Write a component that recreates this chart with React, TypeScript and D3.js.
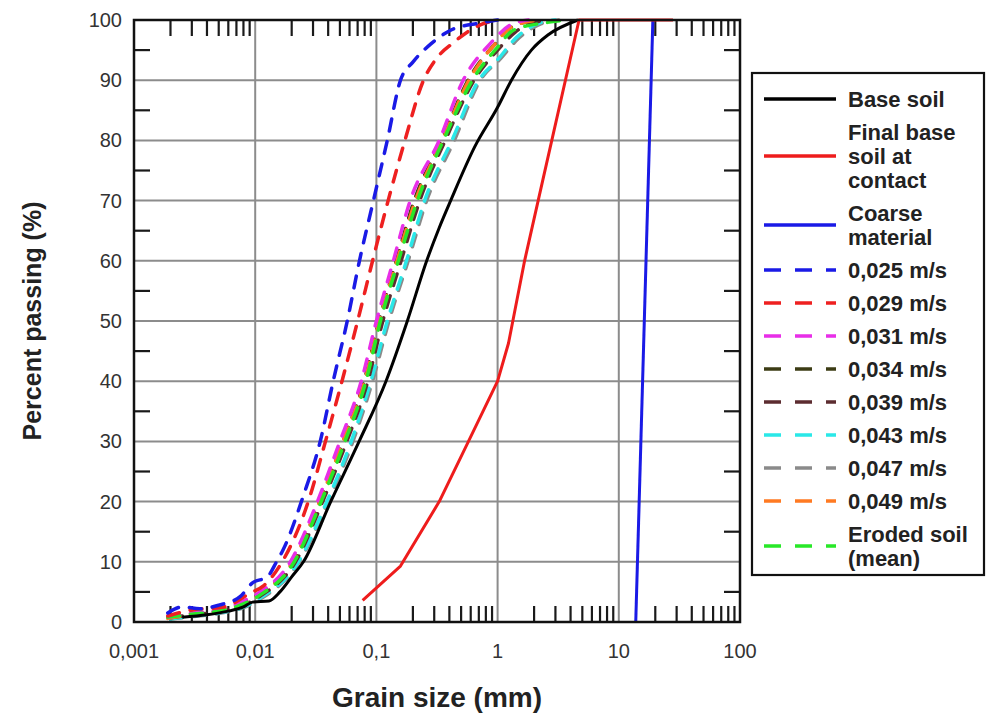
import React from "react";
import * as d3 from "d3";

// grain size (mm), percent passing (%)
const baseSoil = [
  [0.0025, 0.8], [0.004, 1.2], [0.006, 1.8], [0.008, 2.5], [0.0095, 3.3], [0.013, 3.5],
  [0.016, 5], [0.02, 7.5], [0.025, 10], [0.042, 20], [0.072, 30], [0.12, 40], [0.18, 50],
  [0.26, 60], [0.33, 65.5], [0.41, 70], [0.65, 79], [1.0, 85.5], [1.3, 90], [1.9, 95],
  [2.6, 97.5], [4.6, 100],
];
const finalBaseSoil = [
  [0.077, 3.6], [0.158, 9.3], [0.33, 20], [0.575, 30], [1.0, 40], [1.23, 46.3], [1.67, 60],
  [2.36, 73.4], [4.7, 100], [28, 100],
];
const coarseMaterial = [[13.8, 0], [19.1, 100]];
const v025 = [
  [0.0019, 1.5], [0.0025, 2.5], [0.0035, 2.2], [0.005, 2.8], [0.0075, 4.2], [0.0095, 6.5],
  [0.0126, 7.5], [0.015, 10], [0.017, 12], [0.025, 21], [0.0344, 30], [0.044, 40],
  [0.0575, 50], [0.0725, 60], [0.0945, 70], [0.123, 80], [0.158, 90], [0.2, 93], [0.28, 96],
  [0.41, 98.3], [0.72, 99.5], [1.0, 100],
];
const v029 = [
  [0.0019, 1], [0.003, 2], [0.0055, 2.5], [0.0091, 4.8], [0.0117, 6], [0.0167, 10],
  [0.0274, 20], [0.038, 30], [0.052, 40], [0.07, 50], [0.093, 60], [0.125, 70], [0.172, 80],
  [0.245, 90], [0.31, 93.5], [0.43, 96.2], [0.72, 99.2], [1.0, 100],
];
const v031 = [
  [0.0019, 0.8], [0.003, 1.5], [0.005, 2], [0.008, 3.5], [0.011, 5], [0.0195, 10],
  [0.0326, 20], [0.05, 30], [0.075, 40], [0.1, 50], [0.138, 60], [0.19, 70], [0.33, 80],
  [0.52, 90], [0.88, 96.2], [1.28, 99.2], [1.8, 100],
];
const v034 = [
  [0.0019, 0.8], [0.003, 1.4], [0.005, 1.9], [0.008, 3.2], [0.011, 4.8], [0.0205, 10],
  [0.034, 20], [0.053, 30], [0.079, 40], [0.105, 50], [0.146, 60], [0.205, 70], [0.345, 80],
  [0.57, 90], [0.95, 96], [1.3, 98.8], [2.2, 100],
];
const v039 = [
  [0.002, 0.7], [0.003, 1.2], [0.005, 1.7], [0.008, 2.8], [0.011, 4.3], [0.0215, 10],
  [0.036, 20], [0.057, 30], [0.085, 40], [0.113, 50], [0.16, 60], [0.228, 70], [0.37, 80],
  [0.64, 90], [1.0, 95], [1.4, 98], [2.5, 100],
];
const v043 = [
  [0.002, 0.5], [0.003, 1], [0.005, 1.5], [0.008, 2.5], [0.011, 4], [0.0227, 10],
  [0.039, 20], [0.062, 30], [0.09, 40], [0.123, 50], [0.177, 60], [0.25, 70], [0.42, 80],
  [0.7, 90], [1.0, 93.4], [1.45, 97.2], [2.2, 99.5], [3.0, 100],
];
const v047 = [
  [0.002, 0.5], [0.003, 0.9], [0.005, 1.4], [0.008, 2.4], [0.011, 3.8], [0.023, 10],
  [0.04, 20], [0.064, 30], [0.093, 40], [0.127, 50], [0.183, 60], [0.26, 70], [0.44, 80],
  [0.72, 90], [1.05, 93.5], [1.5, 97], [2.3, 99.4], [3.2, 100],
];
const v049 = [
  [0.0019, 0.6], [0.003, 1.2], [0.005, 1.8], [0.008, 3], [0.011, 4.6], [0.0205, 10],
  [0.034, 20], [0.053, 30], [0.08, 40], [0.106, 50], [0.148, 60], [0.21, 70], [0.35, 80],
  [0.58, 90], [0.95, 96], [1.3, 98.8], [2.2, 100],
];
const erodedMean = [
  [0.0019, 0.8], [0.003, 1.3], [0.005, 1.8], [0.008, 3], [0.011, 4.5], [0.021, 10],
  [0.035, 20], [0.055, 30], [0.082, 40], [0.108, 50], [0.152, 60], [0.218, 70], [0.357, 80],
  [0.62, 90], [1.0, 95.5], [1.35, 98.3], [2.4, 99.5], [3.8, 100],
];

const xTickValues = [0.001, 0.01, 0.1, 1, 10, 100];
const xTickLabels = ["0,001", "0,01", "0,1", "1", "10", "100"];
const yTickValues = [0, 10, 20, 30, 40, 50, 60, 70, 80, 90, 100];

const series = [
  { key: "base", label: ["Base soil"], data: baseSoil, color: "#000000", dashed: false, smooth: true },
  { key: "final", label: ["Final base", "soil at", "contact"], data: finalBaseSoil, color: "#ee1c1c", dashed: false, smooth: false },
  { key: "coarse", label: ["Coarse", "material"], data: coarseMaterial, color: "#1a1ae6", dashed: false, smooth: false },
  { key: "v025", label: ["0,025 m/s"], data: v025, color: "#1a1ae6", dashed: true, smooth: true },
  { key: "v029", label: ["0,029 m/s"], data: v029, color: "#ee2020", dashed: true, smooth: true },
  { key: "v031", label: ["0,031 m/s"], data: v031, color: "#e82ee8", dashed: true, smooth: true },
  { key: "v034", label: ["0,034 m/s"], data: v034, color: "#3c3c14", dashed: true, smooth: true },
  { key: "v039", label: ["0,039 m/s"], data: v039, color: "#5c2c30", dashed: true, smooth: true },
  { key: "v043", label: ["0,043 m/s"], data: v043, color: "#2ae8e8", dashed: true, smooth: true },
  { key: "v047", label: ["0,047 m/s"], data: v047, color: "#8a8a8a", dashed: true, smooth: true },
  { key: "v049", label: ["0,049 m/s"], data: v049, color: "#ff7a22", dashed: true, smooth: true },
  { key: "eroded", label: ["Eroded soil", "(mean)"], data: erodedMean, color: "#28e828", dashed: true, smooth: true },
];
// painting order, back to front
const drawOrder = ["v047", "v043", "v034", "v039", "v049", "v031", "eroded", "v029", "v025", "base", "coarse", "final"];

const font = "'Liberation Sans', Arial, sans-serif";

const App = () => {
  const left = 134, right = 740, top = 20, bottom = 622;
  const x = d3.scaleLog().domain([0.001, 100]).range([left, right]);
  const y = d3.scaleLinear().domain([0, 100]).range([bottom, top]);
  const smooth = d3
    .line<number[]>()
    .x((d) => x(d[0]))
    .y((d) => y(d[1]))
    .curve(d3.curveMonotoneX);
  const straight = d3
    .line<number[]>()
    .x((d) => x(d[0]))
    .y((d) => y(d[1]));

  const minor: number[] = [];
  [0.001, 0.01, 0.1, 1, 10].forEach((dec) => {
    for (let k = 2; k <= 9; k++) minor.push(dec * k);
  });
  const yMinor = d3.range(5, 100, 10);
  const tickLen = 16;

  // legend rows
  const legendX = 752, legendY = 73;
  let rowY = 99;
  const legendRows = series.map((s) => {
    const n = s.label.length;
    const lineH = 24;
    const center = rowY + ((n - 1) * lineH) / 2;
    const row = { s, first: rowY, center, lineH };
    rowY = rowY + (n - 1) * lineH + 33;
    return row;
  });

  return (
    <svg
      width={986}
      height={724}
      style={{ position: "absolute", left: 0, top: 0, background: "#fff" }}
      fontFamily={font}
    >
      {/* grid */}
      <g stroke="#8c8c8c" strokeWidth={2}>
        {xTickValues.slice(1, -1).map((v) => (
          <line key={"gx" + v} x1={x(v)} x2={x(v)} y1={top} y2={bottom} />
        ))}
        {yTickValues.slice(1, -1).map((v) => (
          <line key={"gy" + v} x1={left} x2={right} y1={y(v)} y2={y(v)} />
        ))}
      </g>

      {/* minor ticks */}
      <g stroke="#1a1a1a" strokeWidth={2.2}>
        {minor.map((v) => (
          <g key={"mt" + v}>
            <line x1={x(v)} x2={x(v)} y1={top} y2={top + tickLen} />
            <line x1={x(v)} x2={x(v)} y1={bottom} y2={bottom - tickLen} />
          </g>
        ))}
        {yMinor.map((v) => (
          <g key={"my" + v}>
            <line x1={left} x2={left + tickLen} y1={y(v)} y2={y(v)} />
            <line x1={right} x2={right - tickLen} y1={y(v)} y2={y(v)} />
          </g>
        ))}
      </g>

      {/* curves */}
      <g fill="none" strokeLinejoin="round">
        {drawOrder.map((k) => {
          const s = series.find((d) => d.key === k)!;
          const gen = s.smooth ? smooth : straight;
          return (
            <path
              key={k}
              d={gen(s.data) || ""}
              stroke={s.color}
              strokeWidth={s.dashed ? 3.5 : 3}
              strokeDasharray={s.dashed ? "12,11" : undefined}
              strokeLinecap={s.dashed ? "round" : "butt"}
            />
          );
        })}
      </g>

      {/* frame */}
      <rect x={left} y={top} width={right - left} height={bottom - top} fill="none" stroke="#111" strokeWidth={2.5} />

      {/* tick labels */}
      <g fontSize={20} fill="#333">
        {yTickValues.map((v) => (
          <text key={"yl" + v} x={left - 12} y={y(v)} dy="0.35em" textAnchor="end">
            {v}
          </text>
        ))}
        {xTickValues.map((v, i) => (
          <text key={"xl" + v} x={x(v)} y={658} textAnchor="middle">
            {xTickLabels[i]}
          </text>
        ))}
      </g>

      {/* axis titles */}
      <text x={437} y={707} textAnchor="middle" fontSize={28} fontWeight="bold" fill="#222">
        Grain size (mm)
      </text>
      <text
        transform="translate(32,321) rotate(-90)"
        dy="0.35em"
        textAnchor="middle"
        fontSize={25}
        fontWeight="bold"
        fill="#222"
      >
        Percent passing (%)
      </text>

      {/* legend */}
      <rect x={legendX} y={legendY} width={232} height={502} fill="#fff" stroke="#111" strokeWidth={2.2} />
      {legendRows.map(({ s, first, center, lineH }) => (
        <g key={"lg" + s.key}>
          <line
            x1={764}
            x2={836}
            y1={center}
            y2={center}
            stroke={s.color}
            strokeWidth={3.5}
            strokeDasharray={s.dashed ? "17,14" : undefined}
          />
          {s.label.map((t, i) => (
            <text key={i} x={848} y={first + i * lineH} dy="0.35em" fontSize={22} fontWeight="bold" fill="#222">
              {t}
            </text>
          ))}
        </g>
      ))}
    </svg>
  );
};

export default App;
